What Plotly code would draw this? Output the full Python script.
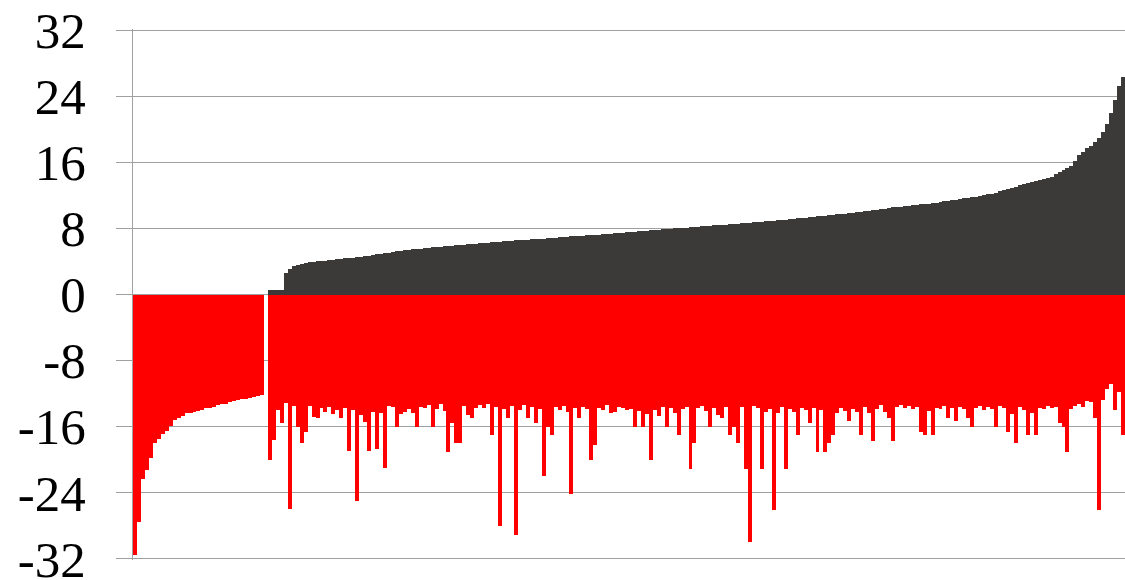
import plotly.graph_objects as go

# ---- data ----
red_values = [
    -31.5, -27.5, -22.3, -21.3, -19.8, -18.0, -17.5, -16.9, -16.5, -15.9,
    -15.2, -14.9, -14.7, -14.4, -14.3, -14.2, -14.1, -14.0, -13.8, -13.7,
    -13.6, -13.4, -13.3, -13.2, -13.0, -12.9, -12.8, -12.7, -12.6, -12.5,
    -12.4, -12.35, -12.2,
    0.0,
    -20.1, -17.6, -14.0, -15.5, -13.1, -26.0, -13.5, -16.0, -18.0, -16.6,
    -13.5, -14.8, -14.9, -13.8, -14.2, -13.6, -14.5, -14.0, -14.9, -13.7,
    -19.0, -14.0, -25.0, -14.6, -15.4, -19.0, -14.2, -18.7, -14.4, -21.0,
    -13.5, -13.6, -16.0, -14.5, -14.2, -13.9, -14.3, -16.0, -13.6, -13.8,
    -13.4, -16.0, -13.9, -13.2, -14.1, -19.1, -15.5, -18.0, -18.0, -13.5,
    -14.6, -14.9, -13.7, -13.4, -13.8, -13.3, -17.0, -13.6, -28.0, -13.9,
    -15.0, -13.5, -29.1, -14.0, -13.4, -15.0, -13.6, -15.6, -13.9, -22.0,
    -16.0, -17.0, -13.6, -14.0, -13.5, -14.2, -24.1, -13.8, -14.9, -13.6,
    -13.9, -20.1, -18.2, -13.7, -14.0, -13.4, -14.4, -14.2, -13.6, -13.8,
    -14.0, -13.9, -16.0, -14.1, -16.0, -14.5, -20.1, -14.0, -14.7, -13.6,
    -16.0, -13.8, -14.3, -17.0, -13.9, -13.6, -21.1, -18.0, -13.8, -13.5,
    -14.1, -16.0, -13.7, -14.6, -15.0, -13.6, -17.0, -16.0, -18.0, -13.6,
    -21.1, -30.0, -13.5, -13.8, -21.1, -14.2, -13.9, -26.1, -14.3, -13.6,
    -21.1, -13.9, -14.2, -17.0, -13.7, -14.0, -15.5, -13.8, -19.1, -14.0,
    -19.1, -18.0, -17.0, -14.3, -13.7, -14.1, -15.3, -13.9, -14.2, -17.0,
    -13.6, -14.4, -17.7, -13.9, -13.4, -14.2, -15.0, -17.7, -13.6, -13.4,
    -13.8, -13.5, -13.9, -13.6, -16.7, -17.0, -14.1, -17.0, -13.7, -13.9,
    -13.5, -15.0, -13.8, -15.3, -13.6, -13.9, -15.0, -16.0, -13.7, -13.5,
    -14.0, -13.6, -13.9, -16.0, -13.5, -13.8, -16.7, -14.5, -18.0, -13.6,
    -14.0, -17.0, -14.4, -17.0, -13.7, -13.9, -13.5, -13.8, -13.6, -15.5,
    -16.0, -19.1, -13.9, -13.5, -13.3, -13.6, -12.9, -13.0, -15.0, -26.1,
    -12.8, -11.5, -10.8, -14.0, -11.8, -17.0,
]

dark_values = [
    0, 0, 0, 0, 0, 0, 0, 0, 0, 0,
    0, 0, 0, 0, 0, 0, 0, 0, 0, 0,
    0, 0, 0, 0, 0, 0, 0, 0, 0, 0,
    0, 0, 0, 0,
    0.55, 0.55, 0.55, 0.6, 2.6, 3.1, 3.4, 3.6, 3.75, 3.82,
    3.88, 3.94, 4.0, 4.05, 4.1, 4.15, 4.2, 4.26, 4.3, 4.36,
    4.42, 4.48, 4.55, 4.6, 4.66, 4.72, 4.8, 4.86, 4.93, 5.0,
    5.08, 5.15, 5.22, 5.3, 5.35, 5.4, 5.45, 5.5, 5.55, 5.6,
    5.65, 5.7, 5.75, 5.8, 5.84, 5.88, 5.92, 5.96, 6.0, 6.04,
    6.08, 6.12, 6.16, 6.2, 6.24, 6.28, 6.32, 6.36, 6.4, 6.43,
    6.47, 6.5, 6.54, 6.57, 6.61, 6.64, 6.68, 6.71, 6.75, 6.78,
    6.82, 6.86, 6.9, 6.93, 6.97, 7.0, 7.04, 7.07, 7.1, 7.14,
    7.17, 7.2, 7.23, 7.26, 7.3, 7.34, 7.38, 7.42, 7.46, 7.5,
    7.54, 7.58, 7.62, 7.66, 7.7, 7.74, 7.78, 7.82, 7.86, 7.9,
    7.94, 7.98, 8.01, 8.04, 8.08, 8.11, 8.14, 8.18, 8.22, 8.26,
    8.3, 8.33, 8.37, 8.4, 8.43, 8.46, 8.5, 8.54, 8.58, 8.62,
    8.66, 8.7, 8.74, 8.78, 8.82, 8.86, 8.9, 8.95, 9.0, 9.04,
    9.08, 9.13, 9.18, 9.22, 9.27, 9.32, 9.36, 9.41, 9.46, 9.5,
    9.55, 9.6, 9.65, 9.7, 9.75, 9.8, 9.85, 9.9, 9.96, 10.02,
    10.08, 10.14, 10.2, 10.27, 10.34, 10.41, 10.48, 10.55, 10.6, 10.65,
    10.7, 10.75, 10.8, 10.85, 10.9, 10.95, 11.0, 11.07, 11.14, 11.21,
    11.28, 11.35, 11.42, 11.49, 11.56, 11.63, 11.7, 11.77, 11.84, 11.93,
    12.02, 12.12, 12.22, 12.35, 12.48, 12.6, 12.75, 12.9, 13.05, 13.2,
    13.35, 13.5, 13.62, 13.75, 13.85, 13.95, 14.05, 14.25, 14.55, 14.85,
    15.1, 15.35, 15.6, 16.2, 16.9, 17.3, 17.7, 17.95, 18.5, 19.0,
    19.7, 20.6, 22.0, 23.5, 25.3, 26.3,
]

categories = list(range(len(red_values)))

tick_values = [-32, -24, -16, -8, 0, 8, 16, 24, 32]
tick_labels = ["-32", "-24", "-16", "-8", "0", "8", "16", "24", "32"]

RED = "#ff0000"
DARK = "#3b3a38"
GRID = "#a0a0a0"
SERIF = "Liberation Serif, Times New Roman, serif"

fig = go.Figure()
fig.add_trace(go.Bar(x=categories, y=red_values, marker=dict(color=RED, line=dict(width=0)),
                     showlegend=False, hoverinfo="skip"))
fig.add_trace(go.Bar(x=categories, y=dark_values, marker=dict(color=DARK, line=dict(width=0)),
                     showlegend=False, hoverinfo="skip"))

fig.update_layout(
    template="none",
    width=1125, height=580,
    margin=dict(l=133, r=0, t=29, b=20, pad=0),
    paper_bgcolor="white", plot_bgcolor="white",
    barmode="relative", bargap=0,
    font=dict(family=SERIF, size=51, color="black"),
    xaxis=dict(range=[-0.5, len(categories) - 0.5], showticklabels=False, showgrid=False,
               zeroline=False, showline=False, ticks="", automargin=False),
    yaxis=dict(range=[-32.15, 32.15], tickvals=tick_values, ticktext=tick_labels,
               automargin=False,
               showgrid=True, gridcolor=GRID, gridwidth=1.3,
               zeroline=False, showline=True, linecolor=GRID, linewidth=1.3,
               ticks="outside", ticklen=16, tickcolor=GRID, tickwidth=1.3,
               ticklabelstandoff=20, ticklabeloverflow="allow",
               tickfont=dict(family=SERIF, size=51, color="black")),
)

fig.write_html("out.html")
